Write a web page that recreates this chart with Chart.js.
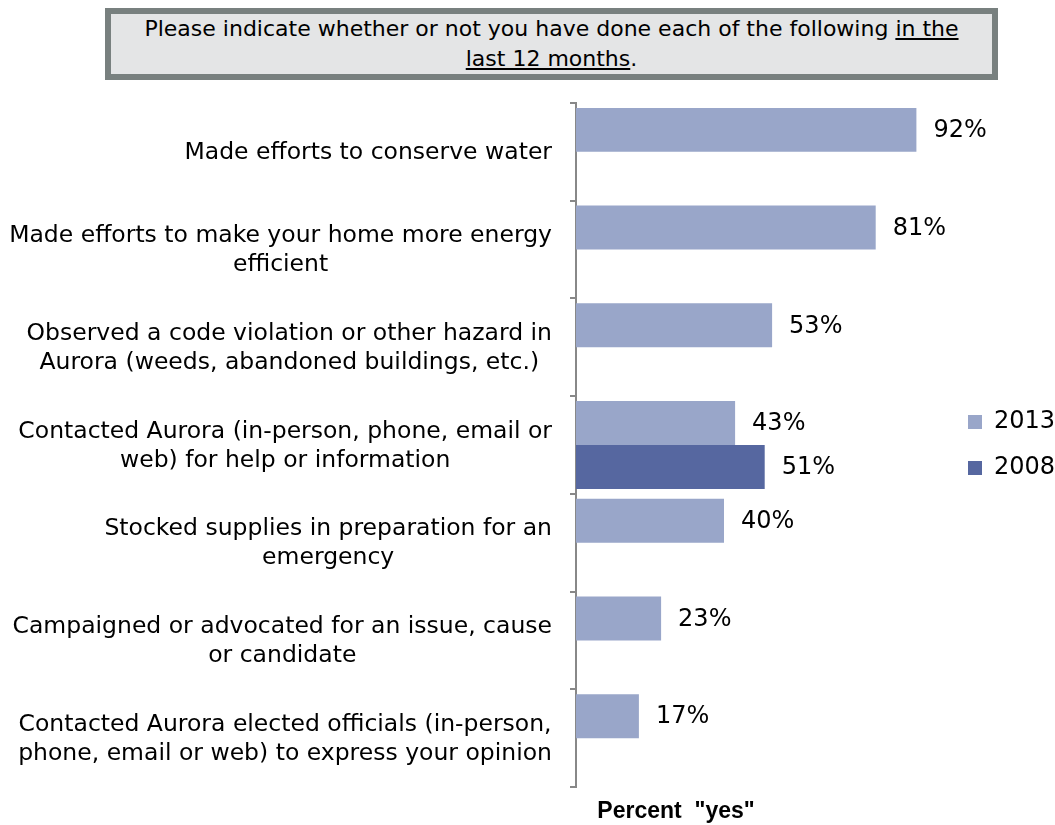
<!DOCTYPE html>
<html>
<head>
<meta charset="utf-8">
<script src="https://cdn.jsdelivr.net/npm/chart.js@4"></script>
<style>
    html, body { margin: 0; padding: 0; background: #fff; }
    #wrap { position: relative; width: 1055px; height: 825px; }
    #chart { position: absolute; left: 0; top: 0; }
    #question {
        position: absolute; left: 105px; top: 8px; width: 881px; height: 60px;
        border: 6px solid #78807f; background: #e4e5e6;
        font-family: "DejaVu Sans", sans-serif; font-size: 22px; line-height: 30px;
        text-align: center; color: #000;
    }
</style>
</head>
<body>
<div id="wrap">
    <canvas id="chart" width="1055" height="825"></canvas>
    <div id="question">Please indicate whether or not you have done each of the following <u>in the<br>last 12 months</u>.</div>
</div>
<script>
var categories = [
    ['Made efforts to conserve water'],
    ['Made efforts to make your home more energy', 'efficient'],
    ['Observed a code violation or other hazard in', 'Aurora (weeds, abandoned buildings, etc.)'],
    ['Contacted Aurora (in-person, phone, email or', 'web) for help or information'],
    ['Stocked supplies in preparation for an', 'emergency'],
    ['Campaigned or advocated for an issue, cause', 'or candidate'],
    ['Contacted Aurora elected officials (in-person,', 'phone, email or web) to express your opinion']
];
var values2013 = [92, 81, 53, 43, 40, 23, 17];
var values2008 = [null, null, null, 51, null, null, null];
var seriesNames = ['2013', '2008'];
var axisTitle = 'Percent  "yes"';

var FONT = '"DejaVu Sans", sans-serif';

// category labels: block right-aligned to the axis, lines centred inside the block
var categoryLabels = {
    id: 'categoryLabels',
    afterDraw: function(chart) {
        var ctx = chart.ctx;
        var scale = chart.scales.y;
        var right = chart.chartArea.left - 24;
        var lh = 29;
        ctx.save();
        ctx.font = '23.5px ' + FONT;
        ctx.fillStyle = '#000';
        ctx.textAlign = 'center';
        ctx.textBaseline = 'middle';
        categories.forEach(function(lines, i) {
            var w = 0;
            lines.forEach(function(l) {
                w = Math.max(w, ctx.measureText(l).width);
            });
            var cx = right - w / 2;
            var y0 = scale.getPixelForTick(i) - (lines.length - 1) * lh / 2 + 1;
            lines.forEach(function(l, k) {
                ctx.fillText(l, cx, y0 + k * lh);
            });
        });
        ctx.restore();
    }
};

// percent labels to the right of each bar
var valueLabels = {
    id: 'valueLabels',
    afterDatasetsDraw: function(chart) {
        var ctx = chart.ctx;
        ctx.save();
        ctx.font = '24px ' + FONT;
        ctx.fillStyle = '#000';
        ctx.textAlign = 'left';
        ctx.textBaseline = 'middle';
        chart.data.datasets.forEach(function(ds, i) {
            chart.getDatasetMeta(i).data.forEach(function(bar, j) {
                if (ds.data[j] === null) {
                    return;
                }
                ctx.fillText(ds.data[j] + '%', bar.x + 17, bar.y + 1);
            });
        });
        ctx.restore();
    }
};

// bold axis caption under the plot
var bottomTitle = {
    id: 'bottomTitle',
    afterDraw: function(chart) {
        var ctx = chart.ctx;
        ctx.save();
        ctx.font = 'bold 23px "Liberation Sans", Arial, sans-serif';
        ctx.fillStyle = '#000';
        ctx.textAlign = 'center';
        ctx.textBaseline = 'middle';
        ctx.fillText(axisTitle, chart.chartArea.left + 100, 812);
        ctx.restore();
    }
};

new Chart(document.getElementById('chart'), {
    type: 'bar',
    data: {
        labels: categories,
        datasets: [
            {
                label: seriesNames[0],
                data: values2013,
                backgroundColor: '#99a6c9',
                borderWidth: 0
            },
            {
                label: seriesNames[1],
                data: values2008,
                backgroundColor: '#5667a0',
                borderWidth: 0
            }
        ]
    },
    options: {
        indexAxis: 'y',
        responsive: false,
        animation: false,
        layout: {
            padding: { top: 103, bottom: 38, left: 0, right: 0 }
        },
        datasets: {
            bar: {
                categoryPercentage: 0.9,
                barPercentage: 1.0
            }
        },
        scales: {
            x: {
                display: false,
                min: 0,
                max: 100
            },
            y: {
                offset: true,
                afterFit: function(scale) {
                    scale.width = 576;
                },
                grid: {
                    offset: true,
                    drawOnChartArea: false,
                    color: '#888',
                    tickLength: 6,
                    lineWidth: 2
                },
                border: {
                    color: '#888',
                    width: 2
                },
                ticks: {
                    display: false
                }
            }
        },
        plugins: {
            legend: {
                position: 'right',
                maxWidth: 109,
                labels: {
                    boxWidth: 14,
                    boxHeight: 14,
                    padding: 22,
                    color: '#000',
                    font: { family: FONT, size: 24 }
                }
            },
            tooltip: { enabled: false }
        }
    },
    plugins: [valueLabels, categoryLabels, bottomTitle]
});
</script>
</body>
</html>
